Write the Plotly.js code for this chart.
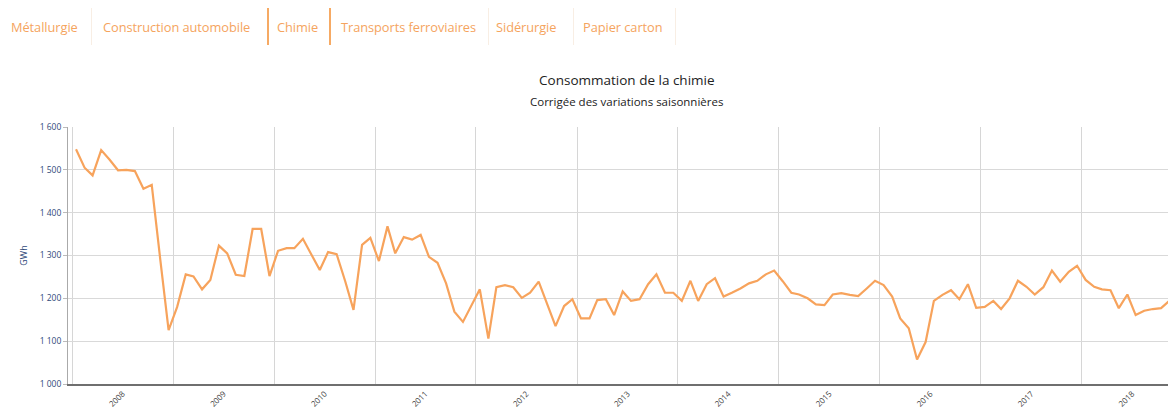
<!DOCTYPE html>
<html>
<head>
<meta charset="utf-8">
<script src="https://cdn.plot.ly/plotly-3.0.1.min.js"></script>
<style>
  html, body { margin:0; padding:0; background:#fff; }
  #wrap { position:relative; width:1168px; height:410px; overflow:hidden; }
  #chart { position:absolute; left:0; top:0; width:1168px; height:410px; }
  #tabs { position:absolute; left:0; top:0; width:1168px; height:50px; z-index:5; }
  .tab { position:absolute; top:18px; font-family:"Open Sans", sans-serif; font-size:12.8px; color:#f5a45e; white-space:nowrap; letter-spacing:-0.05px; line-height:18px; }
  .sep { position:absolute; top:8px; height:37px; }
</style>
</head>
<body>
<div id="wrap">
  <div id="chart"></div>
  <div id="tabs"></div>
</div>
<script>
// ---- data ----
const tabs = ["Métallurgie", "Construction automobile", "Chimie", "Transports ferroviaires", "Sidérurgie", "Papier carton"];
const activeTab = "Chimie";
const titleText = "Consommation de la chimie";
const subtitleText = "Corrigée des variations saisonnières";
const yTitle = "GWh";

const years = [2008, 2009, 2010, 2011, 2012, 2013, 2014, 2015, 2016, 2017, 2018];
const months = ["01","02","03","04","05","06","07","08","09","10","11","12"];

const v2008 = [1548, 1505, 1487, 1546, 1524, 1499, 1500, 1497, 1456, 1465, 1290, 1126];
const v2009 = [1180, 1256, 1251, 1221, 1243, 1323, 1305, 1255, 1252, 1362, 1362, 1252];
const v2010 = [1311, 1317, 1317, 1339, 1303, 1266, 1308, 1303, 1240, 1173, 1325, 1341];
const v2011 = [1287, 1368, 1305, 1343, 1337, 1348, 1297, 1283, 1235, 1169, 1145, 1183];
const v2012 = [1221, 1106, 1226, 1231, 1226, 1201, 1213, 1239, 1187, 1135, 1182, 1198];
const v2013 = [1153, 1153, 1196, 1198, 1161, 1216, 1194, 1198, 1233, 1256, 1213, 1213];
const v2014 = [1194, 1241, 1194, 1233, 1247, 1204, 1213, 1223, 1235, 1241, 1256, 1265];
const v2015 = [1240, 1213, 1209, 1200, 1186, 1184, 1209, 1212, 1208, 1205, 1223, 1241];
const v2016 = [1231, 1204, 1153, 1130, 1057, 1098, 1194, 1208, 1219, 1198, 1233, 1178];
const v2017 = [1180, 1194, 1175, 1200, 1241, 1227, 1209, 1226, 1265, 1239, 1262, 1276];
const v2018 = [1243, 1227, 1221, 1219, 1177, 1209, 1161, 1171, 1175, 1177, 1195];

const valuesByYear = [v2008, v2009, v2010, v2011, v2012, v2013, v2014, v2015, v2016, v2017, v2018];

// ---- build series ----
const x = [], y = [];
years.forEach((yr, i) => {
  valuesByYear[i].forEach((val, m) => {
    x.push(yr + "-" + months[m] + "-15");
    y.push(val);
  });
});

// ---- tabs ----
const tabLeft = [11, 103, 277, 341, 496, 583];
const sepLeft = [91, 267, 329, 488, 573, 675];
const tabsEl = document.getElementById("tabs");
tabs.forEach((t, i) => {
  const s = document.createElement("span");
  s.className = "tab";
  s.style.left = tabLeft[i] + "px";
  s.textContent = t;
  tabsEl.appendChild(s);
});
sepLeft.forEach((l, i) => {
  const d = document.createElement("div");
  const on = (tabs[i] === activeTab) || (tabs[i + 1] === activeTab);
  d.className = "sep";
  d.style.left = l + "px";
  d.style.width = on ? "2px" : "1px";
  d.style.backgroundColor = on ? "rgb(246,170,100)" : "rgb(248,238,228)";
  tabsEl.appendChild(d);
});

// ---- chart ----
const trace = {
  x: x, y: y, type: "scatter", mode: "lines",
  line: { color: "#f7a35c", width: 2.2 },
  hoverinfo: "x+y", showlegend: false
};

const layout = {
  width: 1168, height: 410,
  margin: { l: 68, r: 0, t: 127, b: 26, pad: 0 },
  paper_bgcolor: "#ffffff", plot_bgcolor: "#ffffff",
  separators: ", ",
  font: { family: "Open Sans, sans-serif", size: 9, color: "#333" },
  title: {
    text: titleText,
    font: { family: "Open Sans, sans-serif", size: 13.5, color: "#222" },
    x: 0.508, xref: "paper", xanchor: "center",
    y: 1 - 80 / 410, yref: "container", yanchor: "middle"
  },
  annotations: [{
    text: subtitleText, showarrow: false,
    xref: "paper", yref: "paper",
    x: 0.508, xanchor: "center",
    y: 1 + (127 - 102) / 257, yanchor: "middle",
    font: { family: "Open Sans, sans-serif", size: 11.5, color: "#222" }
  }],
  xaxis: {
    type: "date",
    range: ["2007-12-17", "2018-11-09"],
    tick0: "2008-01-01", dtick: "M12",
    tickformat: "%Y", ticklabelmode: "period",
    tickangle: -45,
    tickfont: { size: 8, color: "#444" },
    showgrid: true, gridcolor: "#d6d6d6", gridwidth: 1,
    showline: true, linecolor: "#6f6f6f", linewidth: 2,
    ticks: "", zeroline: false, automargin: false, fixedrange: true
  },
  yaxis: {
    range: [1000, 1600], dtick: 100, tick0: 1000,
    tickformat: ",d",
    tickfont: { size: 8.5, color: "#2f4a7a" },
    showgrid: true, gridcolor: "#d9d9d9", gridwidth: 1,
    showline: true, linecolor: "#aaa", linewidth: 1,
    ticks: "outside", ticklen: 4, tickcolor: "#bbb",
    zeroline: false, automargin: false, fixedrange: true,
    title: { text: yTitle, font: { size: 9, color: "#2f4a7a" }, standoff: 10 }
  }
};

Plotly.newPlot("chart", [trace], layout, { displayModeBar: false, staticPlot: false });
</script>
</body>
</html>
